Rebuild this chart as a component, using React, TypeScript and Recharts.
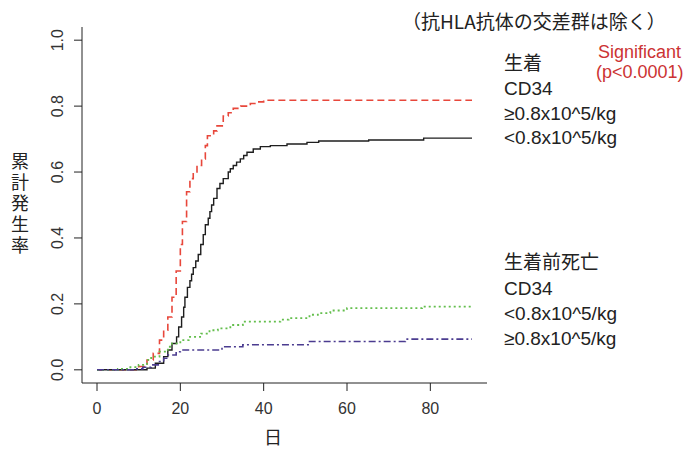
import React from 'react';
import { LineChart, Line, XAxis, YAxis } from 'recharts';

// 生着 CD34 ≥0.8x10^5/kg (red dashed)
const engraftHighDays = [0, 10, 12, 13.5, 15, 16, 17, 18, 19, 20, 20.5, 21.5, 22.3, 23.1, 24, 25.1, 26, 26.5, 28, 28.8, 30.3, 31.5, 32.7, 34.5, 36.8, 38.5, 40, 90];
const engraftHighRate = [0, 0.01, 0.03, 0.05, 0.09, 0.12, 0.16, 0.22, 0.3, 0.38, 0.45, 0.54, 0.58, 0.6, 0.62, 0.64, 0.68, 0.71, 0.725, 0.74, 0.77, 0.78, 0.793, 0.8, 0.808, 0.813, 0.818, 0.818];

// 生着 CD34 <0.8x10^5/kg (black solid)
const engraftLowDays = [0, 12, 14, 16, 17, 18, 19.1, 19.6, 20.3, 20.8, 21.1, 21.7, 22.3, 22.7, 23.1, 23.7, 24.3, 24.9, 25.5, 26, 26.7, 27.1, 27.5, 28, 28.8, 29.5, 30.3, 31.5, 32, 32.7, 33.5, 34.4, 35.2, 36, 37.5, 39.2, 41.6, 45.6, 50.4, 53.2, 65.2, 78.4, 90];
const engraftLowRate = [0, 0.005, 0.02, 0.04, 0.06, 0.08, 0.1, 0.13, 0.16, 0.19, 0.22, 0.25, 0.27, 0.29, 0.31, 0.33, 0.35, 0.38, 0.41, 0.44, 0.46, 0.48, 0.5, 0.52, 0.55, 0.565, 0.58, 0.6, 0.61, 0.62, 0.63, 0.64, 0.65, 0.66, 0.67, 0.677, 0.68, 0.685, 0.69, 0.694, 0.697, 0.703, 0.703];

// 生着前死亡 CD34 <0.8x10^5/kg (green dotted)
const deathLowDays = [0, 5, 8, 10, 12, 13, 15, 17, 18, 20, 22, 25, 27, 29, 32, 35, 44, 46, 51, 53, 56, 60, 78, 90];
const deathLowRate = [0, 0.003, 0.008, 0.015, 0.03, 0.04, 0.055, 0.07, 0.08, 0.09, 0.1, 0.11, 0.12, 0.126, 0.136, 0.146, 0.152, 0.157, 0.167, 0.172, 0.18, 0.187, 0.192, 0.192];

// 生着前死亡 CD34 ≥0.8x10^5/kg (blue dash-dot)
const deathHighDays = [0, 9, 11, 13, 15, 16, 17, 19, 20, 30, 35, 51, 74, 90];
const deathHighRate = [0, 0.003, 0.008, 0.015, 0.025, 0.035, 0.045, 0.055, 0.06, 0.07, 0.076, 0.086, 0.093, 0.093];

const xTicks = [0, 20, 40, 60, 80];
const yTicks = [0, 0.2, 0.4, 0.6, 0.8, 1.0];
const yLabel = '累計発生率';

const toPoints = (days: number[], rates: number[]) => days.map((d, i) => ({ day: d, rate: rates[i] }));

const FONT = '"Liberation Sans", Arial, "Noto Sans CJK JP", sans-serif';
const JP = '"Noto Sans CJK JP", "Liberation Sans", sans-serif';

const YTick = (props: any) => {
  const { y, payload } = props;
  return (
    <text
      x={58}
      y={y}
      transform={`rotate(-90 58 ${y})`}
      textAnchor="middle"
      dominantBaseline="central"
      fontSize={16}
      fontFamily={FONT}
      fill="#333"
    >
      {Number(payload.value).toFixed(1)}
    </text>
  );
};

export default function App() {
  return (
    <div style={{ position: 'absolute', left: 0, top: 0, width: 691, height: 449, background: '#fff' }}>
      <LineChart
        width={691}
        height={449}
        margin={{ top: 27, right: 204, left: 0, bottom: 36 }}
      >
        <XAxis
          dataKey="day"
          type="number"
          domain={[-3.6, 93.6]}
          ticks={xTicks}
          allowDataOverflow
          height={30}
          tickSize={8}
          tickMargin={12}
          stroke="#222"
          tick={{ fill: '#333', fontSize: 16, fontFamily: FONT }}
        />
        <YAxis
          dataKey="rate"
          type="number"
          domain={[-0.04, 1.04]}
          ticks={yTicks}
          allowDataOverflow
          width={82}
          tickSize={8}
          stroke="#222"
          tick={<YTick />}
        />
        <Line data={toPoints(engraftHighDays, engraftHighRate)} dataKey="rate" type="stepAfter" stroke="#e8473b" strokeWidth={1.6} strokeDasharray="7 4" dot={false} isAnimationActive={false} />
        <Line data={toPoints(engraftLowDays, engraftLowRate)} dataKey="rate" type="stepAfter" stroke="#1e1e1e" strokeWidth={1.4} dot={false} isAnimationActive={false} />
        <Line data={toPoints(deathLowDays, deathLowRate)} dataKey="rate" type="stepAfter" stroke="#63be4c" strokeWidth={1.8} strokeDasharray="2 3" dot={false} isAnimationActive={false} />
        <Line data={toPoints(deathHighDays, deathHighRate)} dataKey="rate" type="stepAfter" stroke="#4b3c90" strokeWidth={1.6} strokeDasharray="7 3 2 3" dot={false} isAnimationActive={false} />
      </LineChart>
      <svg width={691} height={449} style={{ position: 'absolute', left: 0, top: 0, pointerEvents: 'none' }}>
        <text x={402} y={29} fontSize={19} fontFamily={JP} fill="#222">（抗HLA抗体の交差群は除く）</text>
        <text x={598} y={58} fontSize={18} fontFamily={FONT} fill="#cc3333">Significant</text>
        <text x={596} y={78} fontSize={18} fontFamily={FONT} fill="#cc3333">(p&lt;0.0001)</text>
        <text x={504} y={70} fontSize={19} fontFamily={JP} fill="#222">生着</text>
        <text x={504} y={95} fontSize={19} fontFamily={FONT} fill="#222">CD34</text>
        <text x={504} y={120} fontSize={19} fontFamily={FONT} fill="#222">≥0.8x10^5/kg</text>
        <text x={504} y={144} fontSize={19} fontFamily={FONT} fill="#222">&lt;0.8x10^5/kg</text>
        <text x={504} y={269} fontSize={19} fontFamily={JP} fill="#222">生着前死亡</text>
        <text x={504} y={295} fontSize={19} fontFamily={FONT} fill="#222">CD34</text>
        <text x={504} y={320} fontSize={19} fontFamily={FONT} fill="#222">&lt;0.8x10^5/kg</text>
        <text x={504} y={345} fontSize={19} fontFamily={FONT} fill="#222">≥0.8x10^5/kg</text>
        <text
          x={20}
          y={152}
          fontSize={18}
          fontFamily={JP}
          fill="#222"
          letterSpacing={3}
          style={{ writingMode: 'vertical-rl' }}
        >
          {yLabel}
        </text>
        <text x={273} y={444} textAnchor="middle" fontSize={18} fontFamily={JP} fill="#222">日</text>
      </svg>
    </div>
  );
}
